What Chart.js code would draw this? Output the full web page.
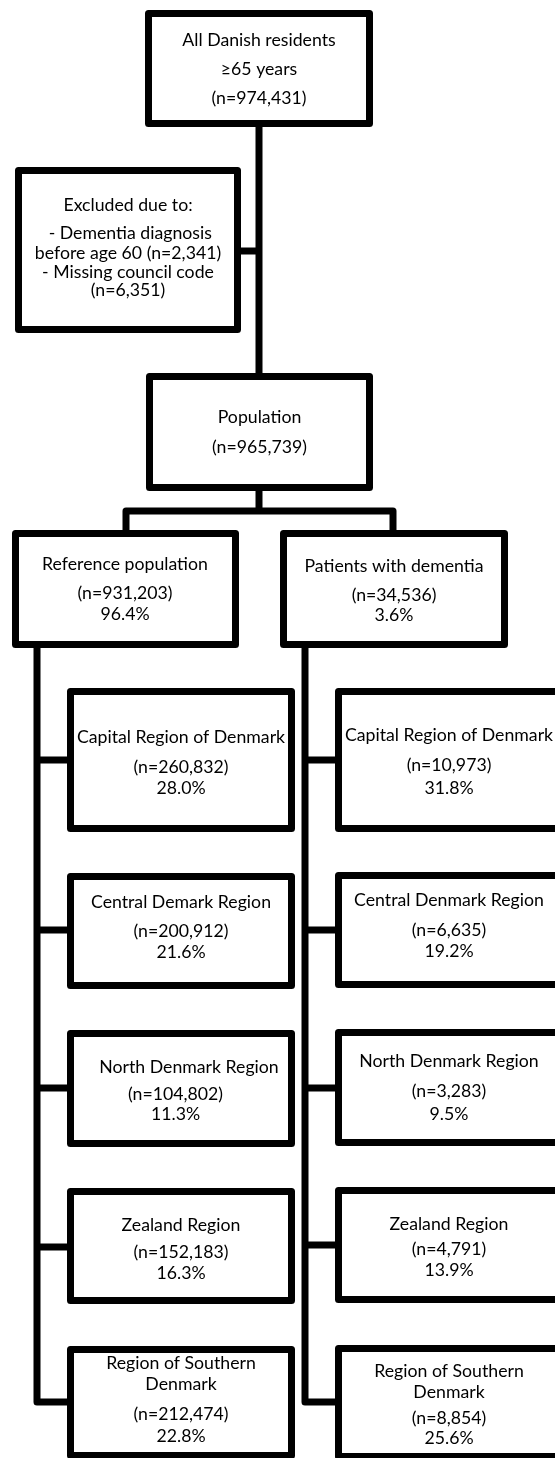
<!DOCTYPE html>
<html>
<head>
<meta charset="utf-8">
<script src="https://cdn.jsdelivr.net/npm/chart.js@4.4.1/dist/chart.umd.min.js"></script>
<style>
  html, body { margin: 0; padding: 0; background: #fff; }
  #wrap { width: 555px; height: 1458px; position: relative; }
</style>
</head>
<body>
<div id="wrap"><canvas id="flow"></canvas></div>
<script>
// cohort numbers
const allResidents = 974431;
const excludedEarly = 2341;
const excludedNoCode = 6351;
const populationTotal = 965739;
const groupTotals = [931203, 34536];
const groupShares = [96.4, 3.6];
const groupNames = ["Reference population", "Patients with dementia"];

// regions (text as printed, incl. the typo on the left side)
const refRegions = ["Capital Region of Denmark", "Central Demark Region", "North Denmark Region", "Zealand Region", "Region of Southern\nDenmark"];
const demRegions = ["Capital Region of Denmark", "Central Denmark Region", "North Denmark Region", "Zealand Region", "Region of Southern\nDenmark"];
const refCounts = [260832, 200912, 104802, 152183, 212474];
const refPct = [28.0, 21.6, 11.3, 16.3, 22.8];
const demCounts = [10973, 6635, 3283, 4791, 8854];
const demPct = [31.8, 19.2, 9.5, 13.9, 25.6];

const fmtN = n => "(n=" + n.toLocaleString("en-US") + ")";
const fmtP = p => p.toFixed(1) + "%";

// box texts, in the same order as the layout below
const texts = [
    ["All Danish residents", "\u226565 years", fmtN(allResidents)],
    ["Excluded due to:", " - Dementia diagnosis", "before age 60 " + fmtN(excludedEarly), "- Missing council code", fmtN(excludedNoCode)],
    ["Population", fmtN(populationTotal)],
    [groupNames[0], fmtN(groupTotals[0]), fmtP(groupShares[0])],
    [groupNames[1], fmtN(groupTotals[1]), fmtP(groupShares[1])]
];
refRegions.forEach((r, i) => texts.push([...r.split("\n"), fmtN(refCounts[i]), fmtP(refPct[i])]));
demRegions.forEach((r, i) => texts.push([...r.split("\n"), fmtN(demCounts[i]), fmtP(demPct[i])]));

// layout: outer box edges, text centre and line baselines (middle)
const layout = [
    { x0: 145, x1: 373, y0: 10, y1: 127, cx: 259, ys: [40, 69, 98] },
    { x0: 15, x1: 241, y0: 167, y1: 333, cx: 128, ys: [205, 233, 253, 272, 290] },
    { x0: 146, x1: 373, y0: 373, y1: 491, cx: 259.5, ys: [417, 447] },
    { x0: 12, x1: 239, y0: 530, y1: 648, cx: 125, ys: [564, 593, 614] },
    { x0: 280, x1: 508, y0: 530, y1: 648, cx: 394, ys: [566, 595, 615] },
    // left column
    { x0: 67, x1: 295, y0: 688, y1: 832, cx: 181, ys: [737, 767, 788] },
    { x0: 67, x1: 295, y0: 873, y1: 989, cx: 181, ys: [902, 931, 952] },
    { x0: 67, x1: 295, y0: 1030, y1: 1147, cx: 181, ys: [1067, 1094, 1114], dx: [8, -5.5, -5.5] },
    { x0: 67, x1: 295, y0: 1188, y1: 1304, cx: 181, ys: [1225, 1252, 1273] },
    { x0: 67, x1: 295, y0: 1346, y1: 1459, cx: 181, ys: [1363, 1384, 1414, 1436] },
    // right column (runs off the edge)
    { x0: 335, x1: 565, y0: 688, y1: 832, cx: 449, ys: [735, 765, 788] },
    { x0: 335, x1: 565, y0: 872, y1: 988, cx: 449, ys: [900, 930, 951] },
    { x0: 335, x1: 565, y0: 1029, y1: 1146, cx: 449, ys: [1061, 1091, 1114] },
    { x0: 335, x1: 565, y0: 1187, y1: 1303, cx: 449, ys: [1224, 1249, 1270] },
    { x0: 335, x1: 565, y0: 1345, y1: 1460, cx: 449, ys: [1371, 1392, 1418, 1438] }
];

// connector polylines
const links = [
    [[259, 124], [259, 377]],
    [[238, 251], [259, 251]],
    [[259, 488], [259, 511]],
    [[126, 530], [126, 511], [393, 511], [393, 530]],
    [[37, 645], [37, 1402], [70, 1402]],
    [[37, 760], [70, 760]], [[37, 930], [70, 930]], [[37, 1088], [70, 1088]], [[37, 1247], [70, 1247]],
    [[305, 645], [305, 1402], [338, 1402]],
    [[305, 760], [338, 760]], [[305, 930], [338, 930]], [[305, 1088], [338, 1088]], [[305, 1245], [338, 1245]]
];

const LW = 7;

const flowPlugin = {
    id: "flow",
    afterDraw(chart) {
        const ctx = chart.ctx;
        const xs = chart.scales.x, ys = chart.scales.y;
        const X = v => xs.getPixelForValue(v);
        const Y = v => ys.getPixelForValue(v);

        ctx.save();
        ctx.strokeStyle = "#000";
        ctx.lineWidth = LW;
        ctx.lineJoin = "round";

        links.forEach(pts => {
            ctx.beginPath();
            pts.forEach((p, i) => i ? ctx.lineTo(X(p[0]), Y(p[1])) : ctx.moveTo(X(p[0]), Y(p[1])));
            ctx.stroke();
        });

        ctx.font = "17.7px Lato";
        ctx.fillStyle = "#000";
        ctx.textAlign = "center";
        ctx.textBaseline = "middle";

        layout.forEach((b, i) => {
            const l = X(b.x0) + LW / 2, t = Y(b.y0) + LW / 2;
            const r = X(b.x1) - LW / 2, btm = Y(b.y1) - LW / 2;
            ctx.fillStyle = "#fff";
            ctx.fillRect(l, t, r - l, btm - t);
            ctx.strokeRect(l, t, r - l, btm - t);
            ctx.fillStyle = "#000";
            texts[i].forEach((line, j) => {
                const dx = b.dx ? b.dx[j] : 0;
                ctx.fillText(line, X(b.cx + dx), Y(b.ys[j]));
            });
        });
        ctx.restore();
    }
};

new Chart(document.getElementById("flow"), {
    type: "scatter",
    data: { datasets: [] },
    options: {
        responsive: true,
        maintainAspectRatio: false,
        animation: false,
        layout: { padding: 0 },
        plugins: { legend: { display: false }, tooltip: { enabled: false } },
        scales: {
            x: { type: "linear", min: 0, max: 555, display: false },
            y: { type: "linear", min: 0, max: 1458, reverse: true, display: false }
        }
    },
    plugins: [flowPlugin]
});
</script>
</body>
</html>
